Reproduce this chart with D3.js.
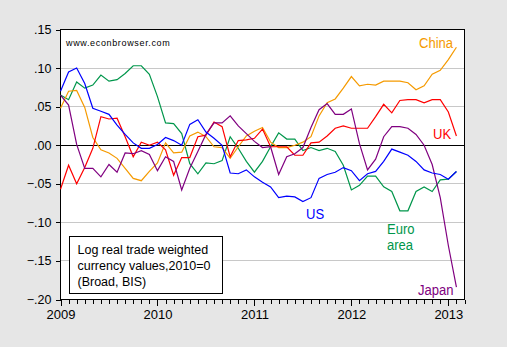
<!DOCTYPE html>
<html>
<head>
<meta charset="utf-8">
<script src="https://d3js.org/d3.v7.min.js"></script>
<style>
  body { margin: 0; background: #e6e6e6; }
  svg text { font-family: "Liberation Sans", Arial, sans-serif; }
</style>
</head>
<body>
<div id="container"></div>
<script>
var width = 507, height = 347;

// monthly observations, 2009M01 .. 2013M02 (log real effective rates, 2010=0)
var months = d3.timeMonth.range(new Date(2009, 0, 1), new Date(2013, 2, 1));
var yearLabels = ["2009", "2010", "2011", "2012", "2013"];
var yTicks = [0.15, 0.10, 0.05, 0.00, -0.05, -0.10, -0.15, -0.20];

var us = [0.070, 0.095, 0.100, 0.080, 0.048, 0.044, 0.040, 0.026, 0.014, 0.003,
          -0.004, -0.004, 0.001, 0.010, 0.006, 0.000, 0.027, 0.033, 0.017, 0.009,
          0.000, -0.036, -0.037, -0.032, -0.041, -0.048, -0.054, -0.068, -0.066, -0.067,
          -0.073, -0.068, -0.043, -0.038, -0.035, -0.029, -0.033, -0.046, -0.037, -0.034,
          -0.021, -0.005, -0.009, -0.013, -0.021, -0.032, -0.036, -0.038, -0.044, -0.034];
var euro = [0.065, 0.059, 0.082, 0.074, 0.078, 0.091, 0.083, 0.085, 0.093, 0.103,
            0.103, 0.092, 0.063, 0.029, 0.028, 0.015, -0.024, -0.037, -0.023, -0.024,
            -0.020, 0.011, -0.004, -0.021, -0.035, -0.021, -0.002, 0.016, 0.008, 0.008,
            -0.007, -0.003, -0.007, -0.004, -0.008, -0.026, -0.058, -0.052, -0.040, -0.040,
            -0.054, -0.060, -0.085, -0.085, -0.060, -0.054, -0.060, -0.045, -0.044, -0.034];
var china = [0.048, 0.070, 0.071, 0.049, 0.010, -0.006, -0.010, -0.017, -0.030, -0.043,
             -0.046, -0.034, -0.023, 0.003, -0.010, -0.009, 0.012, 0.017, 0.011, -0.002,
             -0.003, -0.017, -0.002, 0.012, 0.018, 0.023, 0.004, -0.003, -0.003, 0.000,
             0.004, 0.011, 0.038, 0.055, 0.060, 0.074, 0.089, 0.077, 0.079, 0.078,
             0.083, 0.083, 0.083, 0.081, 0.072, 0.077, 0.092, 0.097, 0.111, 0.127];
var uk = [-0.057, -0.026, -0.050, -0.029, -0.004, 0.037, 0.034, 0.035, 0.011, -0.015,
          0.004, 0.000, 0.004, -0.006, -0.039, -0.016, -0.016, 0.011, 0.013, 0.030,
          0.024, -0.015, 0.006, 0.007, 0.009, 0.021, -0.002, -0.002, -0.002, -0.013,
          -0.013, 0.003, 0.004, 0.012, 0.022, 0.025, 0.022, 0.022, 0.022, 0.037,
          0.053, 0.042, 0.058, 0.059, 0.059, 0.055, 0.059, 0.059, 0.043, 0.012];
var japan = [0.065, 0.052, 0.001, -0.030, -0.030, -0.041, -0.025, -0.035, -0.010, -0.011,
             -0.007, -0.012, -0.033, -0.015, -0.021, -0.058, -0.030, -0.008, 0.014, 0.029,
             0.029, 0.038, 0.025, 0.015, 0.005, -0.003, -0.002, -0.038, -0.015, -0.011,
             -0.003, 0.023, 0.046, 0.054, 0.040, 0.040, 0.047, 0.002, -0.032, -0.018,
             0.011, 0.024, 0.024, 0.022, 0.014, 0.000, -0.025, -0.068, -0.130, -0.184];

var series = [
  {name: "Euro area", values: euro,  color: "#00964b"},
  {name: "China",     values: china, color: "#f59a00"},
  {name: "UK",        values: uk,    color: "#ff0000"},
  {name: "Japan",     values: japan, color: "#800080"},
  {name: "US",        values: us,    color: "#0000ff"}
];

var svg = d3.select("#container").append("svg")
    .attr("width", width)
    .attr("height", height);

svg.append("rect").attr("width", width).attr("height", height).attr("fill", "#e6e6e6");

// month index scale, equal spacing per observation, axis runs to 2013M03
var x = d3.scaleLinear().domain([0, 50]).range([60.5, 464.5]);
var y = d3.scaleLinear().domain([-0.20, 0.15]).range([299.5, 29.5]);

svg.append("rect")
    .attr("x", x(0)).attr("y", y(0.15))
    .attr("width", x(50) - x(0)).attr("height", y(-0.20) - y(0.15))
    .attr("fill", "#fff");

// grid
svg.append("g").selectAll("line")
    .data(yTicks.filter(function(d) { return d < 0.15 && d > -0.20 && d !== 0; }))
    .enter().append("line")
    .attr("x1", x(0)).attr("x2", x(50))
    .attr("y1", function(d) { return y(d); }).attr("y2", function(d) { return y(d); })
    .attr("stroke", "#c8c8c8").attr("stroke-width", 1)
    .attr("shape-rendering", "crispEdges");

svg.append("line")
    .attr("x1", x(0)).attr("x2", x(50))
    .attr("y1", y(0)).attr("y2", y(0))
    .attr("stroke", "#000").attr("stroke-width", 1.3)
    .attr("shape-rendering", "crispEdges");

// axes
var fmt = function(d) { return d3.format(".2f")(d).replace("0.", "."); };
var yAxis = svg.append("g")
    .attr("transform", "translate(" + x(0) + ",0)")
    .call(d3.axisLeft(y).tickValues(yTicks).tickSize(5).tickPadding(4).tickFormat(fmt));
yAxis.select(".domain").remove();
yAxis.selectAll("text").attr("font-size", 12.5).attr("fill", "#000");
yAxis.selectAll("line").attr("shape-rendering", "crispEdges");

var xAxis = svg.append("g")
    .attr("transform", "translate(0," + y(-0.20) + ")")
    .call(d3.axisBottom(x).tickValues(d3.range(0, 51)).tickSize(4).tickPadding(6)
      .tickFormat(function(i) { return i % 12 === 0 ? yearLabels[i / 12] : ""; }));
xAxis.select(".domain").remove();
xAxis.selectAll("text").attr("font-size", 13).attr("fill", "#000");
xAxis.selectAll(".tick line").attr("shape-rendering", "crispEdges")
    .attr("y2", function(i) { return i % 12 === 0 ? 6 : 4; });

// frame
svg.append("rect")
    .attr("x", x(0)).attr("y", y(0.15))
    .attr("width", x(50) - x(0)).attr("height", y(-0.20) - y(0.15))
    .attr("fill", "none").attr("stroke", "#000").attr("stroke-width", 1.3)
    .attr("shape-rendering", "crispEdges");

// series
var line = d3.line()
    .x(function(d, i) { return x(i); })
    .y(function(d) { return y(d); });

svg.append("g").selectAll("path")
    .data(series)
    .enter().append("path")
    .attr("d", function(s) { return line(s.values); })
    .attr("fill", "none")
    .attr("stroke", function(s) { return s.color; })
    .attr("stroke-width", 1.2);

// series labels
var labels = [
  {text: "China", x: 419, y: 47.5, color: "#f59a00"},
  {text: "UK",    x: 433, y: 139,  color: "#ff0000"},
  {text: "US",    x: 306, y: 219,  color: "#0000ff"},
  {text: "Euro",  x: 387, y: 234,  color: "#00964b"},
  {text: "area",  x: 387, y: 250,  color: "#00964b"},
  {text: "Japan", x: 418, y: 295,  color: "#800080"}
];
svg.append("g").selectAll("text")
    .data(labels)
    .enter().append("text")
    .attr("transform", function(d) { return "translate(" + d.x + "," + d.y + ") scale(0.9,1)"; })
    .attr("font-size", 14.5)
    .attr("fill", function(d) { return d.color; })
    .text(function(d) { return d.text; });

svg.append("text")
    .attr("x", 66).attr("y", 45.5)
    .attr("font-size", 9).attr("letter-spacing", 0.65)
    .text("www.econbrowser.com");

// note box
var note = svg.append("g");
note.append("rect")
    .attr("x", 69.5).attr("y", 236.5).attr("width", 153).attr("height", 57)
    .attr("fill", "#fff").attr("stroke", "#000").attr("stroke-width", 1)
    .attr("shape-rendering", "crispEdges");
note.selectAll("text")
    .data(["Log real trade weighted", "currency values,2010=0", "(Broad, BIS)"])
    .enter().append("text")
    .attr("x", 77.5)
    .attr("y", function(d, i) { return 254 + i * 16.2; })
    .attr("font-size", 12.5)
    .text(function(d) { return d; });
</script>
</body>
</html>
